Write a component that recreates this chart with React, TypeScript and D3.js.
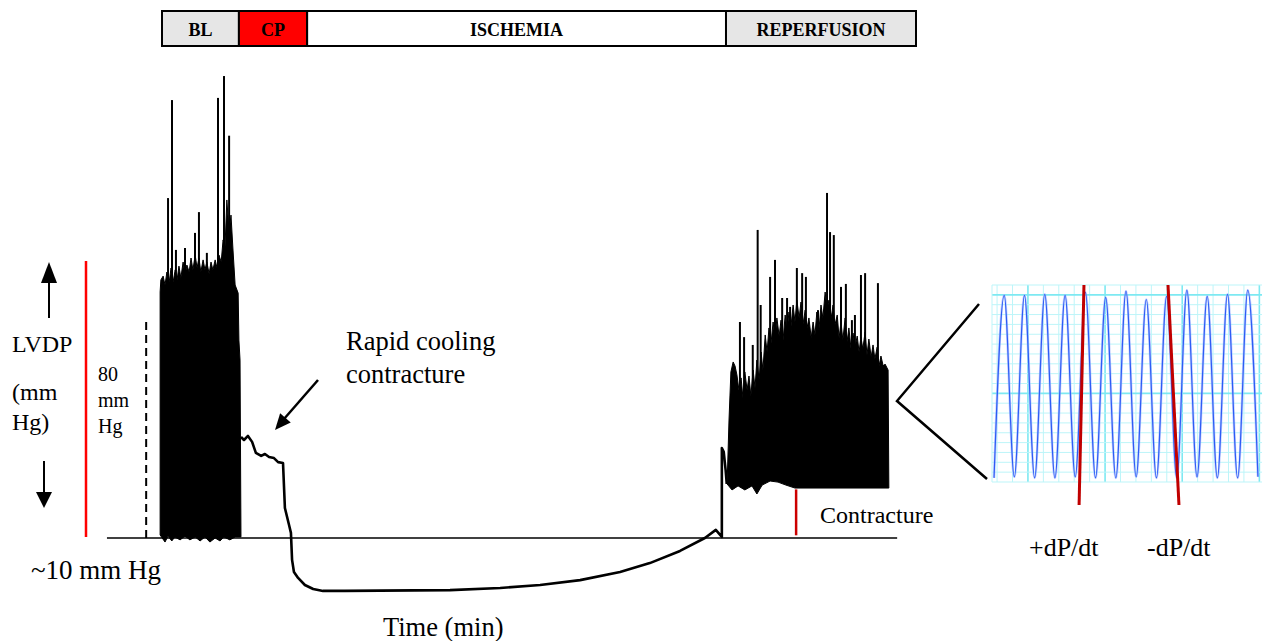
import React from 'react';
import * as d3 from 'd3';

// Protocol phases (minutes)
const phaseNames = ['BL', 'CP', 'ISCHEMIA', 'REPERFUSION'];
const phaseBounds = [0, 20.4, 38.5, 149.6, 200];
const phaseFills = ['#e6e6e6', '#ff0000', '#ffffff', '#e6e6e6'];

// Baseline / CP pressure recording: envelope of the dense beat trace [min, mmHg]
const baselineUpper: [number, number][] = [
  [-0.5, 101.1], [-0.3, 105.6], [0.3, 107], [0.8, 103.7], [1.3, 108.5], [1.9, 104.8],
  [2.4, 110], [2.9, 104.4], [3.5, 109.3], [4, 105.6], [4.5, 110.7], [5, 106.3], [5.6, 112.2],
  [6.1, 107], [6.6, 111.1], [7.2, 108.5], [7.7, 113.7], [8.2, 109.3], [8.8, 114.8], [9.3, 110],
  [9.8, 113.7], [10.3, 108.5], [10.9, 113], [11.4, 109.3], [11.9, 112.2], [12.5, 107.8],
  [13, 112.2], [13.5, 109.3], [14.1, 113], [14.6, 110], [15.1, 114.8], [15.7, 112.2],
  [16.2, 120.4], [16.7, 117.4], [17.2, 135.2], [17.8, 123.3], [18.3, 129.6], [18.8, 117.4],
  [19.4, 103.7], [20.2, 100.7], [20.4, 83.3], [20.7, 75.9], [20.95, 10.4],
];
const baselineLower: [number, number][] = [
  [-0.5, 11.1], [0.8, 8.5], [1.6, 10.7], [2.6, 8.9], [3.4, 10.4], [4.8, 9.3], [6.1, 10.7],
  [7.4, 9.3], [8.8, 10.4], [10.1, 8.9], [11.4, 10.4], [12.7, 8.5], [14.1, 10], [15.4, 8.9],
  [16.4, 10.4], [18.0, 9.3], [19.4, 10.4], [20.95, 10.4],
];
const baselineSpikes: [number, number][] = [
  [1.6, 135.9], [2.65, 172.2], [3.7, 116.7], [6.1, 117.4], [8.75, 123], [9.8, 130.7],
  [11.9, 115.6], [14.85, 173], [16.45, 181.1], [17.8, 159],
];

// Single trace: rapid cooling contracture, ischemic period and onset of reperfusion
const coolingTrace: [number, number][] = [
  [20.96, 47.4], [21.75, 46.3], [22.8, 47.8], [23.9, 45.6], [24.9, 41.5], [26.3, 40.4],
  [27.3, 41.1], [28.4, 40], [29.7, 39.6], [30.8, 38.1], [32.1, 37.8], [32.4, 27.8],
  [32.6, 21.1], [33.7, 14.8], [34.2, 11.9], [34.5, 1.9], [35, -2.6], [36.1, -4.8],
  [37.9, -7.4], [40.1, -8.9], [42.7, -9.6], [48.5, -9.6], [76.4, -9.3], [89.7, -8.5],
  [100.3, -7.4], [110.9, -5.6], [121.5, -2.6], [129.4, 0.7], [137.4, 5.2], [144, 10],
  [146.9, 13], [148.5, 10.4], [148.5, 43.3], [149, 41.9], [149.5, 35.2], [149.8, 30],
];

// Reperfusion pressure recording envelope [min, mmHg]
const reperfUpper: [number, number][] = [
  [149.9, 30], [150.4, 53.7], [150.9, 71.5], [151.5, 75.2], [152, 73.7], [152.5, 70.4],
  [153.1, 64.1], [153.6, 69.3], [154.1, 61.9], [154.6, 71.5], [155.2, 64.8], [155.7, 70],
  [156.2, 62.6], [156.8, 72.2], [157.3, 65.6], [157.8, 75.9], [158.4, 68.5], [158.9, 78.9],
  [159.4, 72.2], [160, 85.2], [160.5, 78.9], [161, 87.8], [161.5, 81.5], [162.1, 90],
  [162.6, 83.3], [163.1, 91.5], [163.7, 84.8], [164.2, 90.7], [164.7, 82.6], [165.3, 92.6],
  [165.8, 86.3], [166.3, 93.7], [166.8, 87.8], [167.4, 96.3], [167.9, 90], [168.4, 98.1],
  [169, 91.5], [169.5, 97.4], [170, 88.9], [170.6, 94.4], [171.1, 87.8], [171.6, 91.5],
  [172.2, 84.1], [172.7, 90], [173.2, 85.2], [173.7, 93.7], [174.3, 87.8], [174.8, 96.3],
  [175.3, 91.5], [175.9, 101.1], [176.4, 94.4], [176.9, 98.1], [177.5, 91.5], [178, 96.3],
  [178.5, 88.9], [179.1, 92.6], [179.6, 84.1], [180.1, 90], [180.6, 83.3], [181.2, 91.5],
  [181.7, 82.6], [182.2, 87.8], [182.8, 79.6], [183.3, 85.9], [183.8, 80.4], [184.4, 84.8],
  [184.9, 78.9], [185.4, 84.4], [185.9, 80], [186.5, 86.3], [187, 77.8], [187.5, 83.7],
  [188.1, 77], [188.6, 81.5], [189.1, 76.3], [189.7, 80.7], [190.2, 73.7], [190.7, 77.4],
  [191.3, 73.7], [191.8, 74.4], [192.6, 72.2], [192.8, 28.5],
];
const reperfLower: [number, number][] = [
  [149.9, 30], [151.2, 27.8], [152.8, 29.3], [154.6, 27.8], [156.5, 29.3], [157.8, 26.3],
  [159.2, 29.6], [161.3, 31.1], [163.4, 30.7], [165.5, 29.6], [167.9, 28.5], [192.8, 28.5],
];
const reperfSpikes: [number, number][] = [
  [153.3, 90], [154.4, 84.4], [156.7, 81.5], [158, 124.1], [158.8, 96.3], [161.3, 106.7],
  [162.6, 113], [164.5, 98.9], [165.8, 98.9], [166.6, 95.6], [168.4, 110], [169.8, 108.1],
  [170.8, 106.7], [174, 94.4], [176.4, 137.8], [177.2, 123.3], [178.2, 122.2], [180.1, 103],
  [181.4, 104.1], [183, 90.7], [183.8, 92.6], [185.4, 107.4], [186.5, 108.1], [189.9, 104.4],
  [191.2, 74.1],
];

// Contracture marker (minutes, from/to mmHg)
const contractureT = 168.2;
const contractureRange = [28, 11];
// 80 mmHg calibration bar
const calibT = -4.2;
const calibRange = [10, 90];
// Zero-time axis extent
const axisExtent = [-14.6, 195];

// Expanded view of reperfusion beats: peaks and end-diastolic troughs (mmHg)
const beatPeaks = [100, 100, 100.5, 100, 101.5, 99, 102, 98, 99.5, 102.5, 99.5, 100.5, 102.5];
const beatTroughs = [12, 12.5, 12, 12, 12.5, 12, 12, 12.5, 12, 12, 12.5, 12, 12, 12.5];
// Tangent lines for +dP/dt and -dP/dt [beat time, mmHg]
const dpdtUp: [number, number][] = [[4.53, 105], [4.29, -1.1]];
const dpdtDown: [number, number][] = [[8.67, 105], [9.21, -1.1]];

const FONT = "'Liberation Serif', 'Times New Roman', serif";

function arrowHead(x1: number, y1: number, x2: number, y2: number, len: number, half: number) {
  const dx = x2 - x1;
  const dy = y2 - y1;
  const l = Math.hypot(dx, dy);
  const ux = dx / l;
  const uy = dy / l;
  const bx = x2 - ux * len;
  const by = y2 - uy * len;
  return `${x2},${y2} ${bx - uy * half},${by + ux * half} ${bx + uy * half},${by - ux * half}`;
}

export default function App() {
  const x = d3.scaleLinear().domain([0, 200]).range([162, 916]);
  const y = d3.scaleLinear().domain([10, 90]).range([538, 322]);

  const line = d3
    .line<[number, number]>()
    .x((d) => x(d[0]))
    .y((d) => y(d[1]));

  const blockPath = (upper: [number, number][], lower: [number, number][]) =>
    (line(upper.concat(lower.slice().reverse())) || '') + 'Z';

  // inset scales
  const ix = d3.scaleLinear().domain([0, 13.3]).range([992, 1262]);
  const iy = d3.scaleLinear().domain([10, 105]).range([482, 285]);

  const wavePts: [number, number][] = [];
  beatTroughs.forEach((tr, k) => {
    wavePts.push([0.1 + k, tr]);
    if (k < beatPeaks.length) wavePts.push([0.6 + k, beatPeaks[k]]);
  });
  const waveLine = d3
    .line<[number, number]>()
    .x((d) => ix(d[0]))
    .y((d) => iy(d[1]))
    .curve(d3.curveMonotoneX);
  const insetLine = d3
    .line<[number, number]>()
    .x((d) => ix(d[0]))
    .y((d) => iy(d[1]));

  const vGrid = d3.range(0.25, 13.35, 0.76);
  const hGrid = d3.range(10, 105.1, 4.75);

  return (
    <svg
      width={1268}
      height={641}
      style={{ position: 'absolute', left: 0, top: 0, background: '#fff' }}
      fontFamily={FONT}
    >
      {/* protocol bar */}
      {phaseNames.map((name, i) => {
        const x0 = x(phaseBounds[i]);
        const x1 = x(phaseBounds[i + 1]);
        return (
          <g key={name}>
            <rect x={x0} y={11} width={x1 - x0} height={35} fill={phaseFills[i]} stroke="#000" strokeWidth={2} />
            <text x={(x0 + x1) / 2} y={36} textAnchor="middle" fontWeight="bold" fontSize={18}>
              {name}
            </text>
          </g>
        );
      })}

      {/* LVDP scale annotation */}
      <line x1={49} y1={318} x2={49} y2={275} stroke="#000" strokeWidth={2} />
      <polygon points="49,262 41,283 57,283" fill="#000" />
      <line x1={44} y1={461} x2={44} y2={495} stroke="#000" strokeWidth={2} />
      <polygon points="44,508 36,492 52,492" fill="#000" />
      <line x1={86} y1={261} x2={86} y2={537} stroke="#ff0000" strokeWidth={2.5} />
      <text x={12} y={352} fontSize={24}>LVDP</text>
      <text x={12} y={400} fontSize={24}>(mm</text>
      <text x={12} y={430} fontSize={24}>Hg)</text>
      <text x={98} y={381} fontSize={20}>80</text>
      <text x={98} y={407} fontSize={20}>mm</text>
      <text x={98} y={433} fontSize={20}>Hg</text>
      <line
        x1={x(calibT)} y1={y(calibRange[0])} x2={x(calibT)} y2={y(calibRange[1])}
        stroke="#000" strokeWidth={2} strokeDasharray="8,5"
      />
      <text x={31} y={579} fontSize={27}>~10 mm Hg</text>

      {/* axis line */}
      <line x1={x(axisExtent[0])} y1={y(10)} x2={x(axisExtent[1])} y2={y(10)} stroke="#000" strokeWidth={1.6} />

      {/* baseline + CP beats */}
      <path d={blockPath(baselineUpper, baselineLower)} fill="#000" stroke="#000" strokeWidth={1} strokeLinejoin="round" />
      {baselineSpikes.map((s, i) => (
        <line key={i} x1={x(s[0])} y1={y(95)} x2={x(s[0])} y2={y(s[1])} stroke="#000" strokeWidth={2} />
      ))}

      {/* cooling contracture / ischemia trace */}
      <path d={line(coolingTrace) || ''} fill="none" stroke="#000" strokeWidth={2.6} strokeLinejoin="round" />

      {/* reperfusion beats */}
      <path d={blockPath(reperfUpper, reperfLower)} fill="#000" stroke="#000" strokeWidth={1} strokeLinejoin="round" />
      {reperfSpikes.map((s, i) => (
        <line key={i} x1={x(s[0])} y1={y(60)} x2={x(s[0])} y2={y(s[1])} stroke="#000" strokeWidth={2} />
      ))}

      {/* contracture marker */}
      <line
        x1={x(contractureT)} y1={y(contractureRange[0])} x2={x(contractureT)} y2={y(contractureRange[1])}
        stroke="#cc0000" strokeWidth={2.5}
      />
      <text x={820} y={523} fontSize={24}>Contracture</text>

      {/* rapid cooling label */}
      <text x={346} y={350} fontSize={26.5}>Rapid cooling</text>
      <text x={346} y={383} fontSize={26.5}>contracture</text>
      <line x1={318} y1={380} x2={284} y2={419} stroke="#000" strokeWidth={2.5} />
      <polygon points={arrowHead(318, 380, 275, 430, 16, 7)} fill="#000" />

      <text x={383} y={636} fontSize={26.5}>Time (min)</text>

      {/* zoom connector */}
      <polyline points="979,304 897,401 987,479" fill="none" stroke="#000" strokeWidth={2.5} />

      {/* expanded beat view */}
      <g>
        {vGrid.map((v, i) => (
          <line
            key={'v' + i}
            x1={ix(v)} y1={iy(105)} x2={ix(v)} y2={iy(10)}
            stroke={i % 5 === 2 ? '#7de9f2' : '#bdf5f9'} strokeWidth={i % 5 === 2 ? 1.6 : 1}
          />
        ))}
        {hGrid.map((h, i) => (
          <line
            key={'h' + i}
            x1={ix(0)} y1={iy(h)} x2={ix(13.3)} y2={iy(h)}
            stroke={i % 10 === 9 ? '#7de9f2' : '#bdf5f9'} strokeWidth={i % 10 === 9 ? 1.6 : 1}
          />
        ))}
        <line x1={ix(0)} y1={iy(10)} x2={ix(0)} y2={iy(105)} stroke="#bdf5f9" strokeWidth={1} />
        <path d={waveLine(wavePts) || ''} fill="none" stroke="#9fb4ff" strokeWidth={2.6} opacity={0.6} />
        <path d={waveLine(wavePts) || ''} fill="none" stroke="#2d5cf5" strokeWidth={1.2} />
        <path d={insetLine(dpdtUp) || ''} stroke="#c00000" strokeWidth={3} />
        <path d={insetLine(dpdtDown) || ''} stroke="#c00000" strokeWidth={3} />
      </g>
      <text x={1029} y={556} fontSize={26}>+dP/dt</text>
      <text x={1147} y={556} fontSize={26}>-dP/dt</text>
    </svg>
  );
}
